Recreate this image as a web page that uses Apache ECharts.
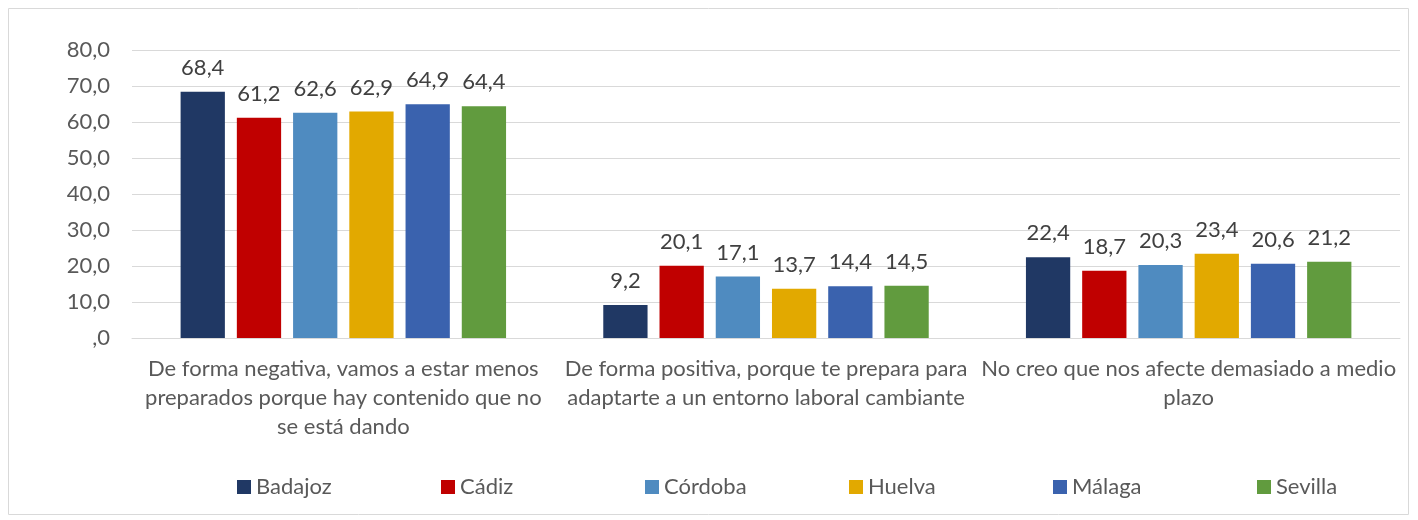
<!DOCTYPE html>
<html>
<head>
    <meta charset="utf-8">
    <title>Impacto por provincia</title>
    <script src="https://cdn.jsdelivr.net/npm/echarts@6/dist/echarts.min.js"></script>
</head>
<body style="margin:0">
    <div id="chart" style="width: 1418px; height: 520px;"></div>
    <script>
        // categorías del eje X
        var categories = [
            'De forma negativa, vamos a estar menos\npreparados porque hay contenido que no\nse está dando',
            'De forma positiva, porque te prepara para\nadaptarte a un entorno laboral cambiante',
            'No creo que nos afecte demasiado a medio\nplazo'
        ];

        // valores por provincia
        var badajoz = [68.4, 9.2, 22.4];
        var cadiz = [61.2, 20.1, 18.7];
        var cordoba = [62.6, 17.1, 20.3];
        var huelva = [62.9, 13.7, 23.4];
        var malaga = [64.9, 14.4, 20.6];
        var sevilla = [64.4, 14.5, 21.2];

        var names = ['Badajoz', 'Cádiz', 'Córdoba', 'Huelva', 'Málaga', 'Sevilla'];
        var values = [badajoz, cadiz, cordoba, huelva, malaga, sevilla];
        var colors = ['#203864', '#c00000', '#4f8bc0', '#e2a900', '#3a62ae', '#619b3e'];

        var fontFam = 'Lato, "Open Sans", sans-serif';

        function fmt(v) {
            if (v === 0) return ',0';
            return v.toFixed(1).replace('.', ',');
        }

        var chart = echarts.init(document.getElementById('chart'));

        var series = names.map(function (n, i) {
            return {
                name: n,
                type: 'bar',
                data: values[i],
                barGap: '27%',
                barCategoryGap: '23%',
                itemStyle: { color: colors[i] },
                label: {
                    show: true,
                    position: 'top',
                    distance: 13,
                    color: '#404040',
                    fontSize: 22,
                    fontFamily: fontFam,
                    formatter: function (p) { return fmt(p.value); }
                }
            };
        });

        // una leyenda por provincia, espaciadas igual que en Excel
        var legends = names.map(function (n, i) {
            return {
                data: [n],
                left: 232 + i * 204,
                top: 471,
                itemWidth: 14,
                itemHeight: 14,
                itemGap: 6,
                icon: 'rect',
                textStyle: { color: '#595959', fontSize: 22, fontFamily: fontFam }
            };
        });

        chart.setOption({
            animation: false,
            graphic: [{
                type: 'rect',
                shape: { x: 8.5, y: 8.5, width: 1400, height: 506 },
                style: { fill: 'none', stroke: '#d9d9d9', lineWidth: 1 },
                silent: true
            }],
            grid: { left: 132, right: 18, top: 50, bottom: 182 },
            legend: legends,
            xAxis: {
                type: 'category',
                data: categories,
                axisTick: { show: false },
                axisLine: { lineStyle: { color: '#d9d9d9' } },
                axisLabel: {
                    interval: 0,
                    color: '#595959',
                    fontSize: 22,
                    fontFamily: fontFam,
                    lineHeight: 29,
                    margin: 16,
                    align: 'center'
                }
            },
            yAxis: {
                type: 'value',
                min: 0,
                max: 80,
                interval: 10,
                axisLine: { show: false },
                axisTick: { show: false },
                splitLine: { lineStyle: { color: '#d9d9d9' } },
                axisLabel: {
                    color: '#595959',
                    fontSize: 22,
                    fontFamily: fontFam,
                    margin: 22,
                    formatter: fmt
                }
            },
            series: series
        });
    </script>
</body>
</html>
